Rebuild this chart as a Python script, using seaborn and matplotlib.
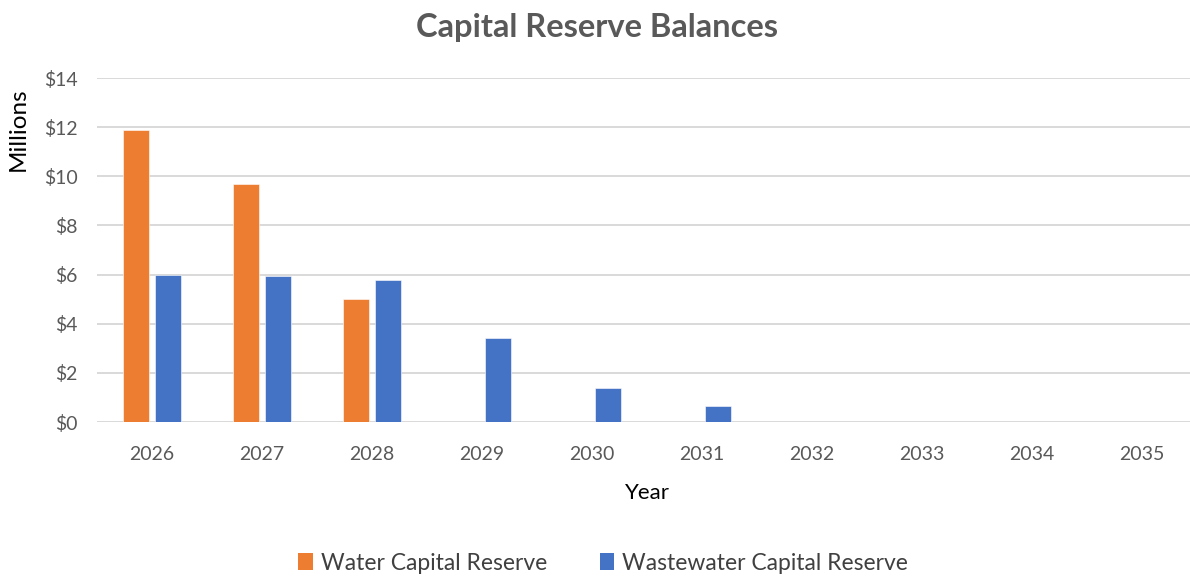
import matplotlib
matplotlib.use("Agg")
import matplotlib.pyplot as plt
import seaborn as sns
import pandas as pd
from matplotlib.patches import Patch
from matplotlib.ticker import FuncFormatter

# Reserve balances by fiscal year, in millions of dollars
years = ["2026", "2027", "2028", "2029", "2030", "2031", "2032", "2033", "2034", "2035"]
water_reserve = [11.9, 9.7, 5.0, 0, 0, 0, 0, 0, 0, 0]
wastewater_reserve = [6.0, 5.95, 5.78, 3.41, 1.38, 0.65, 0, 0, 0, 0]
series_names = ["Water Capital Reserve", "Wastewater Capital Reserve"]
series_colors = ["#ED7D31", "#4472C4"]

df = pd.DataFrame({
    "Year": years * 2,
    "Balance": water_reserve + wastewater_reserve,
    "Reserve": [series_names[0]] * len(years) + [series_names[1]] * len(years),
})

sns.set_theme(style="white")
plt.rcParams["font.family"] = ["Lato", "DejaVu Sans"]

W, H = 1190, 578
fig = plt.figure(figsize=(W / 100, H / 100), dpi=100)
ax = fig.add_axes([97 / W, (H - 422) / H, 1100 / W, 344 / H])

sns.barplot(
    data=df, x="Year", y="Balance", hue="Reserve",
    palette=dict(zip(series_names, series_colors)), saturation=1,
    width=0.575, gap=0.19, ax=ax, legend=False,
    edgecolor="white", linewidth=0.4,
)

ax.set_ylim(0, 14)
ax.set_xlim(-0.5, len(years) - 0.5)
ax.set_yticks(range(0, 15, 2))
ax.yaxis.set_major_formatter(FuncFormatter(lambda v, p: f"${v:.0f}"))
ax.grid(axis="y", color="#D9D9D9", linewidth=1.4)
ax.set_axisbelow(True)
for s in ax.spines.values():
    s.set_visible(False)
ax.tick_params(axis="both", length=0, labelsize=14, labelcolor="#595959")
ax.tick_params(axis="y", pad=14)
ax.tick_params(axis="x", pad=17)

ax.set_xlabel("Year", fontsize=16, color="#000000", labelpad=15)
ax.set_ylabel("")

fig.text(18 / W, 1 - 129 / H, "Millions", rotation=90, ha="center", va="center",
         fontsize=17.5, color="#000000")
fig.text(597 / W, 1 - 27 / H, "Capital Reserve Balances", ha="center", va="center",
         fontsize=23.5, fontweight="bold", color="#595959")

handles = [Patch(facecolor=c, edgecolor="none") for c in series_colors]
fig.legend(handles, series_names, loc="center", bbox_to_anchor=(603 / W, 1 - 563 / H),
           ncol=2, frameon=False, fontsize=16.5, handlelength=0.65, handleheight=0.75,
           handletextpad=0.35, columnspacing=2.3, labelcolor="#404040")

fig.savefig("out.png", dpi=100)
